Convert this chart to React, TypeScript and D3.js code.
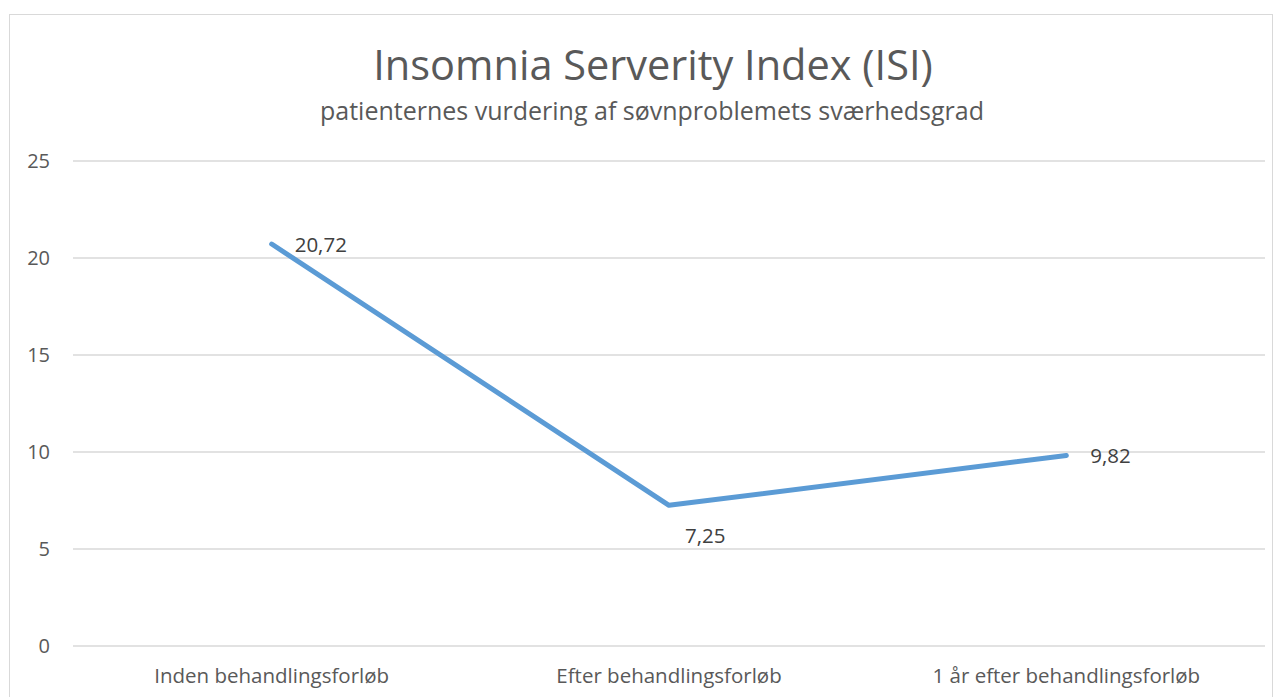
import { useEffect, useRef } from "react"
import * as d3 from "d3"

const categories = ["Inden behandlingsforløb", "Efter behandlingsforløb", "1 år efter behandlingsforløb"]
const values = [20.72, 7.25, 9.82]
const valueLabels = ["20,72", "7,25", "9,82"]
const yTicks = [0, 5, 10, 15, 20, 25]

export default function App() {
  const svgRef = useRef<SVGSVGElement>(null)

  useEffect(() => {
    if (!svgRef.current) return
    const svg = d3.select(svgRef.current)
    svg.selectAll("*").remove()

    const width = 1282
    const height = 697
    const margin = { top: 161, right: 17, bottom: 51, left: 73 }
    const innerWidth = width - margin.left - margin.right
    const innerHeight = height - margin.top - margin.bottom
    const font = "'Open Sans', 'Noto Sans', sans-serif"
    const textColor = "#595959"

    // chart border
    svg
      .append("rect")
      .attr("x", 9.5)
      .attr("y", 14.5)
      .attr("width", 1263)
      .attr("height", 700)
      .attr("fill", "white")
      .attr("stroke", "#d9d9d9")
      .attr("stroke-width", 1)

    const x = d3.scaleBand().domain(categories).range([0, innerWidth])
    const y = d3.scaleLinear().domain([0, 25]).range([innerHeight, 0])

    const g = svg.append("g").attr("transform", `translate(${margin.left},${margin.top})`)

    // gridlines
    g.selectAll("line.grid")
      .data(yTicks)
      .join("line")
      .attr("class", "grid")
      .attr("x1", 0)
      .attr("x2", innerWidth)
      .attr("y1", (d) => y(d))
      .attr("y2", (d) => y(d))
      .attr("stroke", "#d9d9d9")
      .attr("stroke-width", 1.3)

    // y tick labels
    g.selectAll("text.ytick")
      .data(yTicks)
      .join("text")
      .attr("class", "ytick")
      .attr("x", -23)
      .attr("y", (d) => y(d))
      .attr("dy", "0.36em")
      .attr("text-anchor", "end")
      .attr("font-family", font)
      .attr("font-size", 20)
      .attr("fill", textColor)
      .text((d) => d)

    // x category labels
    g.selectAll("text.xtick")
      .data(categories)
      .join("text")
      .attr("class", "xtick")
      .attr("x", (d) => (x(d) || 0) + x.bandwidth() / 2)
      .attr("y", innerHeight + 37)
      .attr("text-anchor", "middle")
      .attr("font-family", font)
      .attr("font-size", 20.5)
      .attr("fill", textColor)
      .text((d) => d)

    const points = categories.map((c, i) => ({ c, v: values[i], label: valueLabels[i] }))
    const line = d3
      .line<{ c: string; v: number }>()
      .x((d) => (x(d.c) || 0) + x.bandwidth() / 2)
      .y((d) => y(d.v))

    g.append("path")
      .datum(points)
      .attr("d", line)
      .attr("fill", "none")
      .attr("stroke", "#5b9bd5")
      .attr("stroke-width", 5)
      .attr("stroke-linecap", "round")
      .attr("stroke-linejoin", "round")

    // data labels
    const offsets = [
      { dx: 23, dy: 8 },
      { dx: 16, dy: 38 },
      { dx: 24, dy: 8 },
    ]
    g.selectAll("text.vlabel")
      .data(points)
      .join("text")
      .attr("class", "vlabel")
      .attr("x", (d, i) => (x(d.c) || 0) + x.bandwidth() / 2 + offsets[i].dx)
      .attr("y", (d, i) => y(d.v) + offsets[i].dy)
      .attr("text-anchor", "start")
      .attr("font-family", font)
      .attr("font-size", 20.5)
      .attr("fill", "#404040")
      .text((d) => d.label)

    // titles
    svg
      .append("text")
      .attr("x", 653)
      .attr("y", 80)
      .attr("text-anchor", "middle")
      .attr("font-family", font)
      .attr("font-size", 41.5)
      .attr("fill", textColor)
      .text("Insomnia Serverity Index (ISI)")

    svg
      .append("text")
      .attr("x", 652)
      .attr("y", 120)
      .attr("text-anchor", "middle")
      .attr("font-family", font)
      .attr("font-size", 25)
      .attr("fill", textColor)
      .text("patienternes vurdering af søvnproblemets sværhedsgrad")
  }, [])

  return (
    <svg
      ref={svgRef}
      width={1282}
      height={697}
      style={{ position: "absolute", left: 0, top: 0, display: "block" }}
    />
  )
}
